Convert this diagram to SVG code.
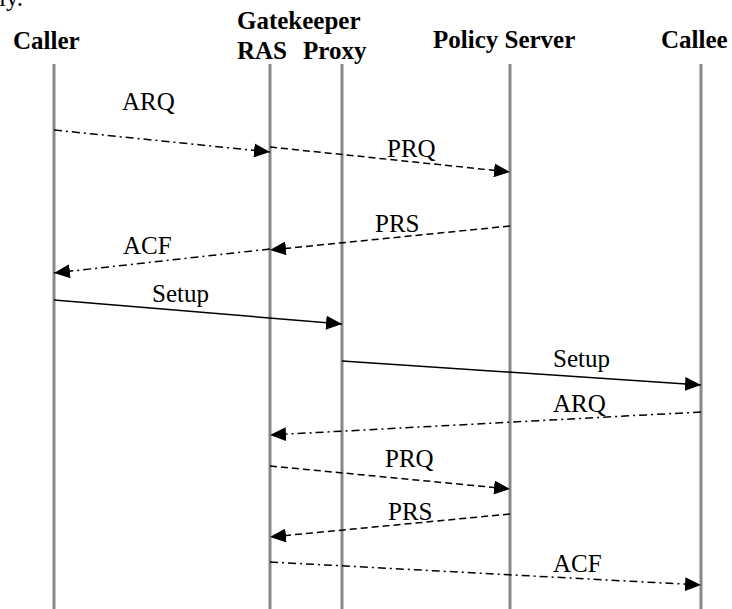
<svg xmlns="http://www.w3.org/2000/svg" width="732" height="609" viewBox="0 0 732 609">
<style>
.hdr{font-family:"Liberation Serif","Times New Roman",serif;font-weight:bold;font-size:25px;fill:#000}
.lbl{font-family:"Liberation Serif","Times New Roman",serif;font-size:25px;fill:#000}
.life{stroke:#888;stroke-width:3;fill:none}
.msg{stroke:#000;stroke-width:1.5;fill:none;marker-end:url(#ah)}
.dash{stroke-dasharray:7 4}
.dd{stroke-dasharray:8 4 2 4}
</style>
<defs>
<marker id="ah" markerUnits="userSpaceOnUse" markerWidth="16" markerHeight="14" refX="16" refY="7" orient="auto">
<path d="M0,0 L16,7 L0,14 Z" fill="#000"/>
</marker>
</defs>
<rect width="732" height="609" fill="#fff"/>
<text class="lbl" x="-1" y="6">ly.</text>
<g id="caller">
<text class="hdr" x="13" y="49">Caller</text>
<line class="life" x1="54" y1="64" x2="54" y2="609"/>
</g>
<g id="gatekeeper-ras">
<text class="hdr" x="237" y="29">Gatekeeper</text>
<text class="hdr" x="237" y="59">RAS</text>
<line class="life" x1="270" y1="64" x2="270" y2="609"/>
</g>
<g id="gatekeeper-proxy">
<text class="hdr" x="303" y="59">Proxy</text>
<line class="life" x1="342" y1="64" x2="342" y2="609"/>
</g>
<g id="policy-server">
<text class="hdr" x="433" y="48">Policy Server</text>
<line class="life" x1="510" y1="64" x2="510" y2="609"/>
</g>
<g id="callee">
<text class="hdr" x="661" y="48">Callee</text>
<line class="life" x1="701" y1="64" x2="701" y2="609"/>
</g>
<g id="connectors">
<line class="msg dd" x1="54" y1="130" x2="270" y2="152"/>
<text class="lbl" x="122" y="110">ARQ</text>
<line class="msg dash" x1="270" y1="147" x2="510" y2="172"/>
<text class="lbl" x="387" y="157">PRQ</text>
<line class="msg dash" x1="510" y1="226" x2="270" y2="250"/>
<text class="lbl" x="375" y="232">PRS</text>
<line class="msg dd" x1="270" y1="249" x2="54" y2="273"/>
<text class="lbl" x="123" y="254">ACF</text>
<line class="msg" x1="54" y1="300" x2="342" y2="324"/>
<text class="lbl" x="152" y="302">Setup</text>
<line class="msg" x1="342" y1="361" x2="701" y2="385"/>
<text class="lbl" x="553" y="367">Setup</text>
<line class="msg dd" x1="701" y1="412" x2="270" y2="435"/>
<text class="lbl" x="553" y="412">ARQ</text>
<line class="msg dash" x1="270" y1="466" x2="510" y2="489"/>
<text class="lbl" x="385" y="467">PRQ</text>
<line class="msg dash" x1="510" y1="514" x2="270" y2="537"/>
<text class="lbl" x="388" y="520">PRS</text>
<line class="msg dd" x1="270" y1="562" x2="701" y2="585"/>
<text class="lbl" x="553" y="572">ACF</text>
</g>
</svg>
